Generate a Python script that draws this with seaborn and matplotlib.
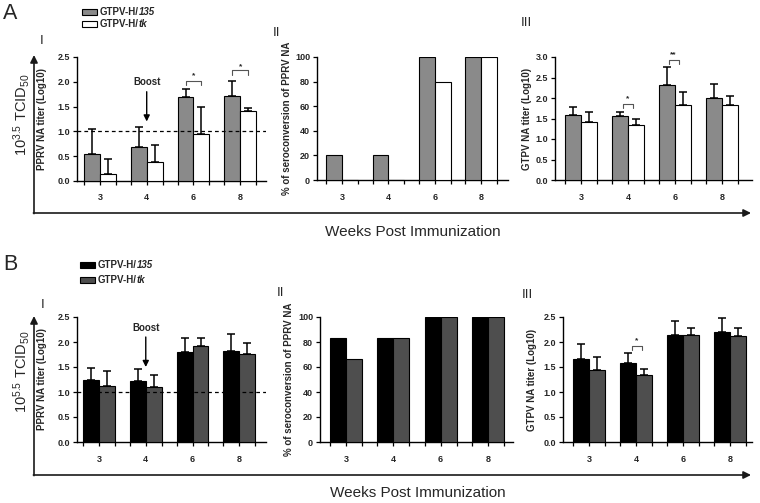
import numpy as np
import pandas as pd
import matplotlib
matplotlib.use("Agg")
import matplotlib.pyplot as plt
import seaborn as sns
from matplotlib.patches import Rectangle

sns.set_style("ticks")
plt.rcParams['font.family'] = ['Liberation Sans', 'DejaVu Sans']
plt.rcParams['mathtext.fontset'] = 'custom'
plt.rcParams['mathtext.rm'] = 'Liberation Sans'
plt.rcParams['mathtext.it'] = 'Liberation Sans:italic'
plt.rcParams['mathtext.bf'] = 'Liberation Sans:bold'

# ---------------- data ----------------
weeks = ["3", "4", "6", "8"]
groups = ["GTPV-H/135", "GTPV-H/tk"]

# Panel A (10^3.5 TCID50)
a1_135 = [0.55, 0.69, 1.70, 1.71]
a1_135_sd = [0.49, 0.40, 0.16, 0.30]
a1_tk = [0.15, 0.38, 0.95, 1.41]
a1_tk_sd = [0.30, 0.35, 0.55, 0.06]

a2_135 = [20, 20, 100, 100]
a2_tk = [0, 0, 80, 100]

a3_135 = [1.58, 1.55, 2.31, 1.99]
a3_135_sd = [0.21, 0.12, 0.44, 0.35]
a3_tk = [1.42, 1.34, 1.83, 1.83]
a3_tk_sd = [0.23, 0.14, 0.31, 0.23]

# Panel B (10^5.5 TCID50)
b1_135 = [1.25, 1.23, 1.80, 1.82]
b1_135_sd = [0.24, 0.24, 0.28, 0.34]
b1_tk = [1.12, 1.11, 1.92, 1.76]
b1_tk_sd = [0.30, 0.23, 0.16, 0.22]

b2_135 = [83.3, 83.3, 100, 100]
b2_tk = [66.7, 83.3, 100, 100]

b3_135 = [1.66, 1.58, 2.14, 2.21]
b3_135_sd = [0.31, 0.21, 0.29, 0.27]
b3_tk = [1.45, 1.35, 2.14, 2.12]
b3_tk_sd = [0.25, 0.11, 0.15, 0.17]

ylab_titer = "PPRV NA titer (Log10)"
ylab_sero = "% of seroconversion of PPRV NA"
ylab_gtpv = "GTPV NA titer (Log10)"

legend_prefix = "GTPV-H/"
legend_suffix = ["135", "tk"]

colA = ["#8a8a8a", "#ffffff"]
colB = ["#000000", "#4e4e4e"]

W, H = 760, 503
fig = plt.figure(figsize=(W / 100, H / 100), dpi=100)

ov = fig.add_axes([0, 0, 1, 1])
ov.set_xlim(0, W)
ov.set_ylim(H, 0)
ov.axis("off")
ov.patch.set_alpha(0)

TICK = dict(fontsize=6.5, fontweight="bold")


def make_ax(l, r, t, b):
    return fig.add_axes([l / W, 1 - b / H, (r - l) / W, (b - t) / H])


def panel(box, xlim, v135, vtk, sd135, sdtk, colors, ylim, yticks, yfmt, ylabel, ylabx):
    l, r, t, b = box
    ax = make_ax(l, r, t, b)
    df = pd.DataFrame({
        "week": weeks * 2,
        "group": [groups[0]] * len(weeks) + [groups[1]] * len(weeks),
        "value": list(v135) + list(vtk),
    })
    sns.barplot(data=df, x="week", y="value", hue="group", order=weeks,
                hue_order=groups, palette=colors, saturation=1,
                edgecolor="black", linewidth=0.8, width=0.68,
                errorbar=None, legend=False, ax=ax, zorder=3)
    if sd135 is not None:
        for cont, sds in zip(ax.containers, [sd135, sdtk]):
            for p, s in zip(cont.patches, sds):
                ax.errorbar(p.get_x() + p.get_width() / 2, p.get_height(),
                            yerr=[[0], [s]], fmt="none", ecolor="black",
                            elinewidth=1.1, capsize=3, capthick=1.1, zorder=2)
    ax.set_xlim(*xlim)
    ax.set_ylim(*ylim)
    ax.set_yticks(yticks)
    ax.set_yticklabels([yfmt.format(v) for v in yticks], **TICK)
    ax.set_xticks(range(len(weeks)))
    ax.set_xticklabels(weeks, **TICK)
    edges = []
    for i in range(len(weeks)):
        edges += [i - 0.34, i + 0.34]
    ax.set_xticks(edges, minor=True)
    ax.tick_params(axis="both", which="both", direction="out", length=3,
                   width=0.9, pad=2, color="black")
    ax.tick_params(axis="x", pad=6)
    ax.set_xlabel("")
    ax.set_ylabel(ylabel, fontsize=7, fontweight="bold")
    # label anchor is the right edge of the rotated text -> centre + ~4 px
    ax.yaxis.set_label_coords((ylabx + 4 - l) / (r - l), 0.5)
    for s in ["top", "right"]:
        ax.spines[s].set_visible(False)
    for s in ["left", "bottom"]:
        ax.spines[s].set_linewidth(1.0)
        ax.spines[s].set_color("black")
    ax.patch.set_alpha(0)
    return ax


def bracket(ax, x0, x1, y, h, txt, ty):
    ax.plot([x0, x0, x1, x1], [y - h, y, y, y - h], color="#555555", lw=0.8,
            clip_on=False, zorder=4)
    ax.text((x0 + x1) / 2, ty, txt, ha="center", va="center", fontsize=6,
            fontweight="bold", clip_on=False)


def boost(ax, x, ytext, y0, y1):
    ax.text(x, ytext, "Boost", ha="center", va="center", fontsize=7,
            fontweight="bold")
    ax.annotate("", xy=(x, y1), xytext=(x, y0),
                arrowprops=dict(arrowstyle="-|>", color="black", lw=1.0,
                                mutation_scale=9, shrinkA=0, shrinkB=0))


# ---------------- Panel A ----------------
axA1 = panel((77, 266, 57, 181), (-0.49, 3.55), a1_135, a1_tk, a1_135_sd, a1_tk_sd,
             colA, (0, 2.5), [0, 0.5, 1.0, 1.5, 2.0, 2.5], "{:.1f}", ylab_titer, 43)
axA1.axhline(1.0, color="black", lw=0.9, ls=(0, (3, 2.5)), zorder=5)
boost(axA1, 1, 2.0, 1.8, 1.2)
bracket(axA1, 2 - 0.17, 2 + 0.17, 2.02, 0.08, "*", 2.12)
bracket(axA1, 3 - 0.17, 3 + 0.17, 2.23, 0.09, "*", 2.30)

axA2 = panel((317, 508, 57, 180), (-0.54, 3.58), a2_135, a2_tk, None, None,
             colA, (0, 100), [0, 20, 40, 60, 80, 100], "{:d}", ylab_sero, 288)

axA3 = panel((555, 752, 57, 180), (-0.55, 3.64), a3_135, a3_tk, a3_135_sd, a3_tk_sd,
             colA, (0, 3.0), [0, 0.5, 1.0, 1.5, 2.0, 2.5, 3.0], "{:.1f}", ylab_gtpv, 528)
bracket(axA3, 1 - 0.11, 1 + 0.1, 1.85, 0.1, "*", 1.97)
bracket(axA3, 2 - 0.13, 2 + 0.08, 2.93, 0.11, "**", 3.05)

# ---------------- Panel B ----------------
axB1 = panel((77, 266, 317, 442), (-0.47, 3.57), b1_135, b1_tk, b1_135_sd, b1_tk_sd,
             colB, (0, 2.5), [0, 0.5, 1.0, 1.5, 2.0, 2.5], "{:.1f}", ylab_titer, 43)
axB1.axhline(1.0, color="black", lw=0.9, ls=(0, (3, 2.5)), zorder=5)
boost(axB1, 1, 2.28, 2.1, 1.5)

axB2 = panel((320, 513, 317, 442), (-0.55, 3.53), b2_135, b2_tk, None, None,
             colB, (0, 100), [0, 20, 40, 60, 80, 100], "{:d}", ylab_sero, 290)

axB3 = panel((563, 752, 317, 442), (-0.55, 3.47), b3_135, b3_tk, b3_135_sd, b3_tk_sd,
             colB, (0, 2.5), [0, 0.5, 1.0, 1.5, 2.0, 2.5], "{:.1f}", ylab_gtpv, 533)
bracket(axB3, 1 - 0.08, 1 + 0.12, 1.92, 0.08, "*", 2.02)

# ---------------- figure-level decorations ----------------
arrow_kw = dict(arrowstyle="-|>", color="#1a1a1a", lw=1.2, mutation_scale=11,
                shrinkA=0, shrinkB=0)
for ybase, ytop in [(213, 55), (475, 316)]:
    ov.annotate("", xy=(34, ytop), xytext=(34, ybase + 0.6), arrowprops=arrow_kw)
    ov.annotate("", xy=(751, ybase), xytext=(33.4, ybase), arrowprops=arrow_kw)

ov.text(22, 115, r"10$^{3.5}$ TCID$_{50}$", rotation=90, ha="center", va="center",
        fontsize=10.5)
ov.text(22, 372, r"10$^{5.5}$ TCID$_{50}$", rotation=90, ha="center", va="center",
        fontsize=10.5)
ov.text(413, 232, "Weeks Post Immunization", ha="center", va="center", fontsize=11)
ov.text(418, 493, "Weeks Post Immunization", ha="center", va="center", fontsize=11)

ov.text(3, 13, "A", ha="left", va="center", fontsize=15.5)
ov.text(3, 265, "B", ha="left", va="center", fontsize=15.5)

for x, y, s in [(42, 41, "I"), (276, 33, "II"), (526, 23, "III"),
                (43, 305, "I"), (281, 293, "II"), (527, 295, "III")]:
    ov.text(x, y, s, ha="center", va="center", fontsize=9.5)

# legends
def legend_entry(xbox, xtext, yc, color, suffix):
    ov.add_patch(Rectangle((xbox, yc - 3), 15, 6, facecolor=color,
                           edgecolor="black", lw=0.8))
    t = ov.text(xtext, yc, legend_prefix, ha="left", va="center", fontsize=7,
                fontweight="bold")
    ov.annotate(suffix, xy=(1, 0.5), xycoords=t, ha="left", va="center",
                fontsize=7, fontweight="bold", fontstyle="italic")


for yc, c, suf in zip([12, 24], colA, legend_suffix):
    legend_entry(82, 100, yc, c, suf)
for yc, c, suf in zip([265, 280], colB, legend_suffix):
    legend_entry(80, 98, yc, c, suf)

fig.savefig("out.png", dpi=100)
